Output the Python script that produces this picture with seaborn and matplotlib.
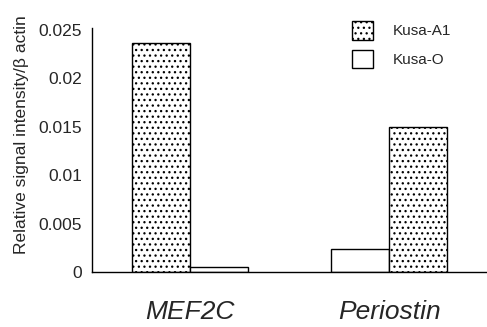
import matplotlib
matplotlib.use("Agg")
import matplotlib.pyplot as plt
import pandas as pd
import seaborn as sns
from matplotlib.patches import Patch

genes = ["MEF2C", "Periostin"]
cell_lines = ["Kusa-A1", "Kusa-O"]
# bar order differs between the two genes in the original figure
mef2c_order = ["Kusa-A1", "Kusa-O"]
mef2c_values = [0.0237, 0.0005]
periostin_order = ["Kusa-O", "Kusa-A1"]
periostin_values = [0.0024, 0.0150]
y_ticks = [0, 0.005, 0.01, 0.015, 0.02, 0.025]
y_tick_labels = ["0", "0.005", "0.01", "0.015", "0.02", "0.025"]

sns.set_theme(style="white")
plt.rcParams["font.family"] = ["Liberation Sans", "DejaVu Sans"]
plt.rcParams["hatch.linewidth"] = 0.9

palette = {"Kusa-A1": "white", "Kusa-O": "white"}
hatches = {"Kusa-A1": "...", "Kusa-O": ""}

fig = plt.figure(figsize=(4.87, 3.27), dpi=100)
ax = fig.add_axes([92 / 487, 55 / 327, 395 / 487, 244 / 327])

groups = [
    ("MEF2C", mef2c_order, mef2c_values),
    ("Periostin", periostin_order, periostin_values),
]
for gene, order, values in groups:
    n_before = len(ax.containers)
    df = pd.DataFrame({"gene": gene, "cell": order, "value": values})
    sns.barplot(
        data=df, x="gene", y="value", hue="cell", order=genes,
        hue_order=order, palette=palette, width=0.58, gap=0,
        edgecolor="black", linewidth=1.0, legend=False, ax=ax,
    )
    # new containers come out in hue_order
    for cell, container in zip(order, ax.containers[n_before:]):
        for bar in container:
            bar.set_hatch(hatches[cell])

ax.set_xlim(-0.49, 1.49)
ax.set_ylim(0, 0.0252)
ax.set_yticks(y_ticks)
ax.set_yticklabels(y_tick_labels, fontsize=12.5)
ax.set_xticks([0, 1])
ax.set_xticklabels(genes, fontsize=19, style="italic")
ax.tick_params(axis="y", direction="in", length=3, width=1, color="black", pad=7)
ax.tick_params(axis="x", length=0, pad=20)
ax.set_xlabel("")
ax.set_ylabel("Relative signal intensity/β actin", fontsize=12.5)
ax.yaxis.set_label_coords(-0.16, 0.565)
sns.despine(ax=ax)
for side in ["left", "bottom"]:
    ax.spines[side].set_color("black")
    ax.spines[side].set_linewidth(1.0)

handles = [
    Patch(facecolor="white", edgecolor="black", hatch=hatches[c], label=c)
    for c in cell_lines
]
ax.legend(
    handles=handles, loc="upper right", bbox_to_anchor=(0.945, 1.085),
    frameon=False, fontsize=11, handlelength=1.4, handleheight=1.5,
    handletextpad=1.3, labelspacing=0.65,
)

fig.savefig("out.png", dpi=100)
